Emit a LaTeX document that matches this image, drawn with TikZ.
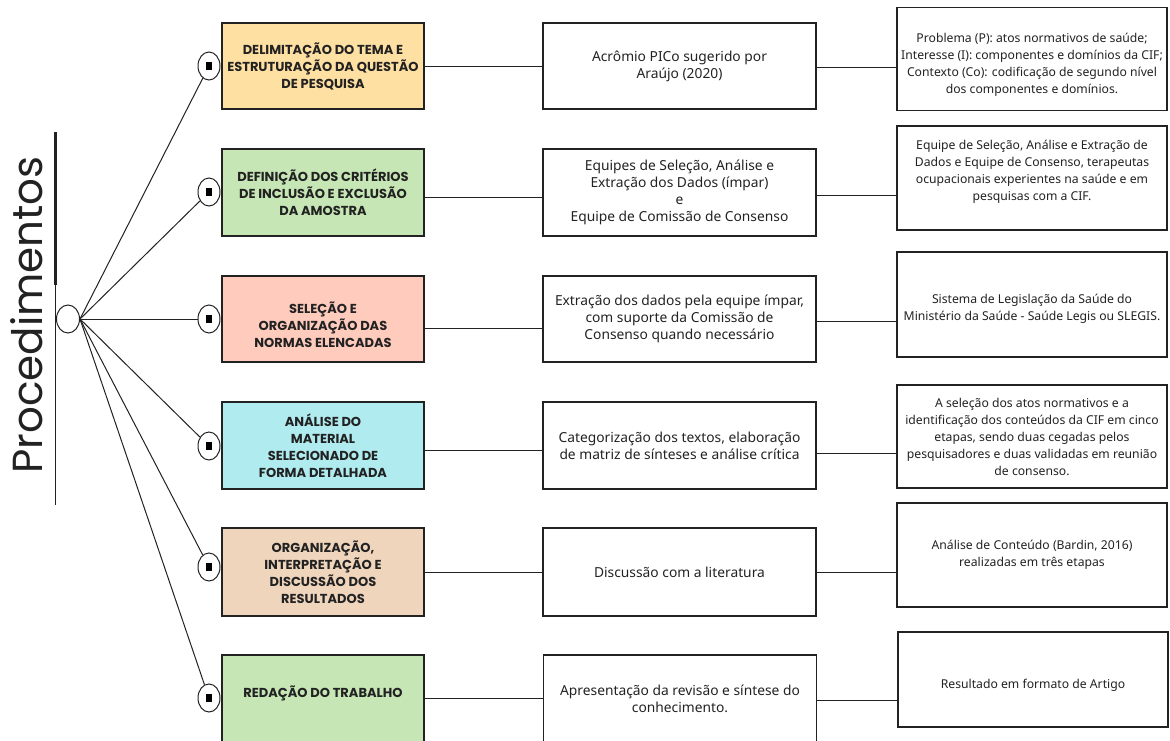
\documentclass[tikz,border=0pt]{standalone}
\usepackage{fontspec}
\setmainfont{Noto Sans}
\newfontfamily\headfont{Poppins}
\usetikzlibrary{shapes.geometric}

\definecolor{corTema}{HTML}{FFE0A3}
\definecolor{corCriterio}{HTML}{C6E6B5}
\definecolor{corSelecao}{HTML}{FFCBBD}
\definecolor{corAnalise}{HTML}{B0EBEF}
\definecolor{corDiscussao}{HTML}{EFD5BC}
\definecolor{linha}{HTML}{222222}

% struts that push a text block up or down in its box
\newcommand{\altoA}[1]{\rule{0pt}{#1}}
\newcommand{\baixoA}[1]{\rule[-#1]{0pt}{#1}}

\begin{document}
\begin{tikzpicture}[x=1pt,y=-1pt,
		etapa/.style={draw=linha, line width=1.2pt, minimum width=202pt, inner sep=0pt,
			align=center, text=linha, font=\headfont\bfseries\fontsize{13}{17}\selectfont},
		acao/.style={draw=linha, line width=1.2pt, minimum width=273pt, inner sep=0pt,
			align=center, text=linha, font=\fontsize{13.8}{17}\selectfont},
		detalhe/.style={draw=linha, line width=1.2pt, minimum width=270pt, inner sep=0pt,
			align=center, text=linha, font=\fontsize{12.2}{17}\selectfont},
		marca/.style={ellipse, draw=linha, line width=1pt, fill=white,
			minimum width=22pt, minimum height=28pt, inner sep=0pt},
		ligacao/.style={draw=linha, line width=1pt}]

		\useasboundingbox (0,0) rectangle (1170,740);

		% title
		\node	[rotate=90, anchor=base, text=linha, font=\headfont\fontsize{42}{42}\selectfont]
				(titulo) at (42,315) {Procedimentos};
		\draw	[linha, line width=3pt] (55,132) -- (55,285);
		\draw	[linha, line width=0.8pt] (55,285) -- (55,505);

		% steps
		\node	[etapa, fill=corTema, minimum height=86pt]		(e1) at (323,66)	{DELIMITAÇÃO DO TEMA E\\ESTRUTURAÇÃO DA QUESTÃO\\DE PESQUISA};
		\node	[etapa, fill=corCriterio, minimum height=87pt]	(e2) at (323,192.5)	{DEFINIÇÃO DOS CRITÉRIOS\\DE INCLUSÃO E EXCLUSÃO\\DA AMOSTRA};
		\node	[etapa, fill=corSelecao, minimum height=86pt]	(e3) at (323,319)	{\altoA{24pt}SELEÇÃO E\\ORGANIZAÇÃO DAS\\NORMAS ELENCADAS};
		\node	[etapa, fill=corAnalise, minimum height=87pt]	(e4) at (323,445.5)	{ANÁLISE DO\\MATERIAL\\SELECIONADO DE\\FORMA DETALHADA};
		\node	[etapa, fill=corDiscussao, minimum height=88pt]	(e5) at (323,572)	{ORGANIZAÇÃO,\\INTERPRETAÇÃO E\\DISCUSSÃO DOS\\RESULTADOS};
		\node	[etapa, fill=corCriterio, minimum height=87pt]	(e6) at (323,698.5)	{REDAÇÃO DO TRABALHO\baixoA{13.5pt}};

		% actions
		\node	[acao, minimum height=86pt]	(m1) at (679.5,66)		{Acrômio PICo sugerido por\\Araújo (2020)};
		\node	[acao, minimum height=87pt]	(m2) at (679.5,192.5)	{Equipes de Seleção, Análise e\\Extração dos Dados (ímpar)\\e\\Equipe de Comissão de Consenso};
		\node	[acao, minimum height=86pt]	(m3) at (679.5,319)		{Extração dos dados pela equipe ímpar,\\com suporte da Comissão de\\Consenso quando necessário};
		\node	[acao, minimum height=87pt]	(m4) at (679.5,445.5)	{Categorização dos textos, elaboração\\de matriz de sínteses e análise crítica};
		\node	[acao, minimum height=88pt]	(m5) at (679.5,572)		{Discussão com a literatura};
		\node	[acao, minimum height=87pt]	(m6) at (680,698.5)		{Apresentação da revisão e síntese do\\conhecimento.};

		% details
		\node	[detalhe, minimum height=103pt]	(d1) at (1032,59)		{\altoA{21pt}Problema (P): atos normativos de saúde;\\Interesse (I): componentes e domínios da CIF;\\Contexto (Co): codificação de segundo nível\\dos componentes e domínios.};
		\node	[detalhe, minimum height=104pt]	(d2) at (1032,178)		{Equipe de Seleção, Análise e Extração de\\Dados e Equipe de Consenso, terapeutas\\ocupacionais experientes na saúde e em\\pesquisas com a CIF.\baixoA{15pt}};
		\node	[detalhe, minimum height=105pt]	(d3) at (1032,304.5)	{\altoA{18.5pt}Sistema de Legislação da Saúde do\\Ministério da Saúde - Saúde Legis ou SLEGIS.};
		\node	[detalhe, minimum height=103pt]	(d4) at (1032,436.5)	{A seleção dos atos normativos e a\\identificação dos conteúdos da CIF em cinco\\etapas, sendo duas cegadas pelos\\pesquisadores e duas validadas em reunião\\de consenso.};
		\node	[detalhe, minimum height=104pt]	(d5) at (1032,555)		{Análise de Conteúdo (Bardin, 2016)\\realizadas em três etapas};
		\node	[detalhe, minimum height=95pt]	(d6) at (1033,679.5)	{\altoA{20pt}Resultado em formato de Artigo};

		% row links
		\foreach \i/\a/\b in {1/0pt/-1pt, 2/-5pt/-2.5pt, 3/-9pt/-2pt, 4/-4.5pt/-8pt, 5/0pt/0pt, 6/0pt/-1.5pt} {
			\draw	[ligacao] ([yshift=\a]e\i.west -| e\i.east) -- ([yshift=\a]e\i.east -| m\i.west);
			\draw	[ligacao] ([yshift=\b]m\i.east) -- ([yshift=\b]m\i.east -| d\i.west);
		}

		% hub and markers
		\node	[marca, minimum width=23pt] (hub) at (68,319) {};
		\foreach \i/\y in {1/66, 2/192, 3/319, 4/446, 5/567, 6/698}
			\node	[marca] (c\i) at (209,\y) {\rule{6.5pt}{8.5pt}};
		\foreach \i in {1,...,6}
			\draw	[ligacao] (hub.east) -- (c\i);

	\end{tikzpicture}
\end{document}
